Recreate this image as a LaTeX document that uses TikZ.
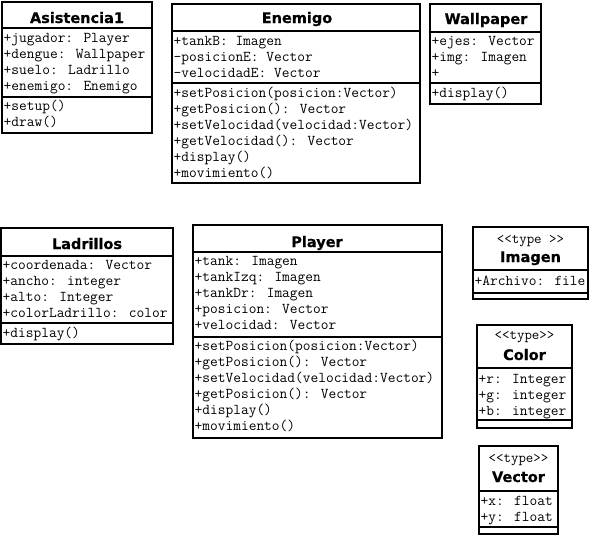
\documentclass[tikz,border=0pt]{standalone}
\usepackage{fontspec}
\newfontfamily\titlefont{DejaVu Sans}[BoldFeatures={FakeBold=0.6}]
\tikzset{
  comp/.style={draw, line width=1.8pt, anchor=north west, inner sep=0pt, outer sep=0pt, fill=white},
  mono/.style={font={\ttfamily\fontsize{15}{16}\selectfont}, anchor=base west, inner sep=0pt},
  ttl/.style={font={\titlefont\bfseries\fontsize{14.5}{16}\selectfont}, anchor=base, inner sep=0pt},
  stereo/.style={font={\ttfamily\fontsize{14.5}{14}\selectfont}, anchor=base, inner sep=0pt},
}
\newcommand\compbox[5]{\node[comp, minimum width={(#4-#2)*1pt}, minimum height={(#5-#3)*1pt}] (#1) at (#2,#3) {};}
\newcommand\rowlines[4]{\foreach \txt [count=\i from 0] in {#4} {\node[mono] (#1-\i) at (#2, #3+16*\i) {\txt};}}
\begin{document}
\begin{tikzpicture}[x=1pt,y=-1pt]
\useasboundingbox (0,0) rectangle (590,536);
% Asistencia1
\compbox{asT}{2}{2}{152}{28}
\compbox{asA}{2}{28}{152}{97}
\compbox{asM}{2}{97}{152}{133}
\node[ttl] (asName) at (77,23) {Asistencia1};
\rowlines{asa}{3.5}{42}{+jugador: Player,+dengue: Wallpaper,+suelo: Ladrillo,+enemigo: Enemigo}
\rowlines{asm}{3.5}{110}{+setup(),+draw()}
% Enemigo
\compbox{enT}{172}{4}{420}{31}
\compbox{enA}{172}{31}{420}{83}
\compbox{enM}{172}{83}{420}{183}
\node[ttl] (enName) at (297,23) {Enemigo};
\rowlines{ena}{173.5}{45}{+tankB: Imagen,-posicionE: Vector,-velocidadE: Vector}
\rowlines{enm}{173.5}{97}{+setPosicion(posicion:Vector),+getPosicion(): Vector,+setVelocidad(velocidad:Vector),+getVelocidad(): Vector,+display(),+movimiento()}
% Wallpaper
\compbox{waT}{430}{4}{541}{32}
\compbox{waA}{430}{32}{541}{83}
\compbox{waM}{430}{83}{541}{104}
\node[ttl] (waName) at (486,24) {Wallpaper};
\rowlines{waa}{431.5}{45}{+ejes: Vector,+img: Imagen,+}
\rowlines{wam}{431.5}{97}{+display()}
% Ladrillos
\compbox{laT}{1}{228}{173}{256}
\compbox{laA}{1}{256}{173}{323}
\compbox{laM}{1}{323}{173}{344}
\node[ttl] (laName) at (87,249) {Ladrillos};
\rowlines{laa}{2.5}{269}{+coordenada: Vector,+ancho: integer,+alto: Integer,+colorLadrillo: color}
\rowlines{lam}{2.5}{337}{+display()}
% Player
\compbox{plT}{193}{225}{442}{252}
\compbox{plA}{193}{252}{442}{337}
\compbox{plM}{193}{337}{442}{438}
\node[ttl] (plName) at (317,247) {Player};
\rowlines{pla}{194.5}{265}{+tank: Imagen,+tankIzq: Imagen,+tankDr: Imagen,+posicion: Vector,+velocidad: Vector}
\rowlines{plm}{194.5}{350}{+setPosicion(posicion:Vector),+getPosicion(): Vector,+setVelocidad(velocidad:Vector),+getPosicion(): Vector,+display(),+movimiento()}
% Imagen
\compbox{imT}{473}{227}{588}{270}
\compbox{imA}{473}{270}{588}{293}
\compbox{imM}{473}{293}{588}{299}
\node[stereo] (imSt) at (530.5,243) {<{}<type >{}>};
\node[ttl] (imName) at (530.5,262) {Imagen};
\rowlines{ima}{474.5}{285}{+Archivo: file}
% Color
\compbox{coT}{477}{325}{572}{368}
\compbox{coA}{477}{368}{572}{420}
\compbox{coM}{477}{420}{572}{428}
\node[stereo] (coSt) at (524.5,339) {<{}<type>{}>};
\node[ttl] (coName) at (524.5,360) {Color};
\rowlines{coa}{478.5}{383}{+r: Integer,+g: integer,+b: integer}
% Vector
\compbox{veT}{479}{446}{558}{491}
\compbox{veA}{479}{491}{558}{527}
\compbox{veM}{479}{527}{558}{534}
\node[stereo] (veSt) at (518.5,462) {<{}<type>{}>};
\node[ttl] (veName) at (518.5,482) {Vector};
\rowlines{vea}{480.5}{505}{+x: float,+y: float}
\end{tikzpicture}
\end{document}
